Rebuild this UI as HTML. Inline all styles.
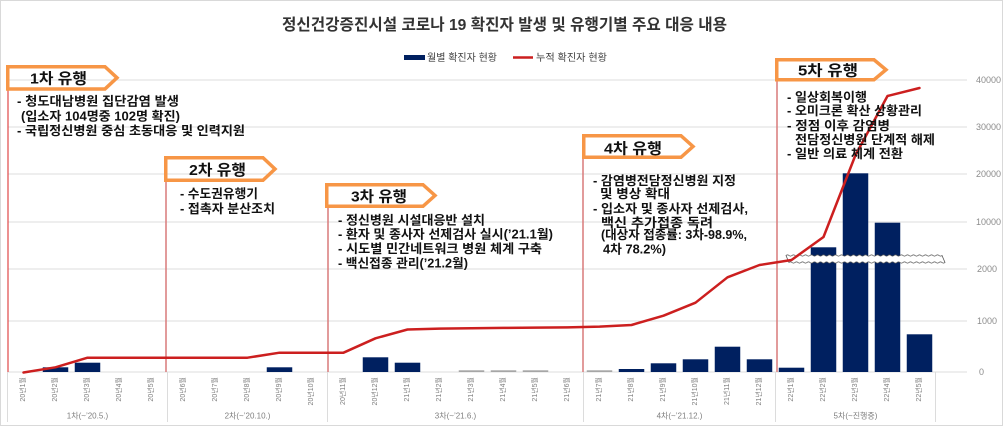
<!DOCTYPE html>
<html><head><meta charset="utf-8">
<style>
html,body{margin:0;padding:0;background:#fff;}
svg{display:block;font-family:"Liberation Sans","Noto Sans CJK KR",sans-serif;}
.t{font-size:12.5px;font-weight:bold;fill:#111;}
.h{font-size:15px;font-weight:bold;fill:#111;}
.m{font-size:7px;fill:#7f7f7f;}
.g{font-size:8px;fill:#7f7f7f;}
.r{font-size:9px;fill:#8c8c8c;}
</style></head>
<body>
<svg width="1003" height="426" viewBox="0 0 1003 426" xmlns="http://www.w3.org/2000/svg">
<rect x="0.5" y="0.5" width="1002" height="425" fill="#fff" stroke="#d9d9d9" stroke-width="1"/>

<!-- title -->
<text x="282" y="30" font-size="16" font-weight="bold" fill="#333" textLength="445" lengthAdjust="spacingAndGlyphs">정신건강증진시설 코로나 19 확진자 발생 및 유행기별 주요 대응 내용</text>

<!-- legend -->
<rect x="404" y="55" width="21" height="5" fill="#002060"/>
<text x="427" y="61" font-size="10" fill="#404040" textLength="70" lengthAdjust="spacingAndGlyphs">월별 확진자 현황</text>
<line x1="513" y1="57.5" x2="533" y2="57.5" stroke="#cc1f1f" stroke-width="2.5"/>
<text x="536" y="61" font-size="10" fill="#404040" textLength="71" lengthAdjust="spacingAndGlyphs">누적 확진자 현황</text>

<!-- gridlines -->
<g stroke="#dedede" stroke-width="1">
<line x1="7.5" y1="80" x2="967" y2="80"/>
<line x1="7.5" y1="127" x2="967" y2="127"/>
<line x1="7.5" y1="174" x2="967" y2="174"/>
<line x1="7.5" y1="222" x2="967" y2="222"/>
<line x1="7.5" y1="269" x2="967" y2="269"/>
<line x1="7.5" y1="321" x2="967" y2="321"/>
<line x1="7.5" y1="372" x2="967" y2="372"/>
</g>
<!-- group separators -->
<g stroke="#dcdcdc" stroke-width="1">
<line x1="7.5" y1="372" x2="7.5" y2="422"/>
<line x1="167.5" y1="372" x2="167.5" y2="422"/>
<line x1="327.5" y1="372" x2="327.5" y2="422"/>
<line x1="583.5" y1="372" x2="583.5" y2="422"/>
<line x1="775.5" y1="372" x2="775.5" y2="422"/>
<line x1="935.5" y1="372" x2="935.5" y2="422"/>
</g>

<!-- right axis labels -->
<g class="r" dominant-baseline="central">
<text x="976" y="80">40000</text>
<text x="976" y="127">30000</text>
<text x="976" y="174">20000</text>
<text x="976" y="222">10000</text>
<text x="977" y="269">2000</text>
<text x="977" y="321">1000</text>
<text x="979" y="372">0</text>
</g>

<!-- wave marker vertical lines -->
<g stroke="#d97a7a" stroke-width="1.5">
<line x1="8" y1="90" x2="8" y2="372" stroke="#e04848" stroke-width="1.2"/>
<line x1="166" y1="182" x2="166" y2="372"/>
<line x1="328" y1="208" x2="328" y2="372"/>
<line x1="583" y1="159" x2="583" y2="372"/>
<line x1="777" y1="81" x2="777" y2="372"/>
</g>

<!-- bars -->
<g fill="#002060">
<rect x="42.75" y="367.3" width="25.5" height="4.7"/>
<rect x="74.75" y="362.7" width="25.5" height="9.3"/>
<rect x="266.75" y="367.3" width="25.5" height="4.7"/>
<rect x="362.75" y="357.3" width="25.5" height="14.7"/>
<rect x="394.75" y="362.7" width="25.5" height="9.3"/>
<rect x="618.75" y="369" width="25.5" height="3"/>
<rect x="650.75" y="363.3" width="25.5" height="8.7"/>
<rect x="682.75" y="359.3" width="25.5" height="12.7"/>
<rect x="714.75" y="346.7" width="25.5" height="25.3"/>
<rect x="746.75" y="359.3" width="25.5" height="12.7"/>
<rect x="778.75" y="367.7" width="25.5" height="4.3"/>
<rect x="810.75" y="247.3" width="25.5" height="124.7"/>
<rect x="842.75" y="173.3" width="25.5" height="198.7"/>
<rect x="874.75" y="222.7" width="25.5" height="149.3"/>
<rect x="906.75" y="334.3" width="25.5" height="37.7"/>
</g>
<g fill="#a6a6a6">
<rect x="458.75" y="370.3" width="25.5" height="1.7"/>
<rect x="490.75" y="370.3" width="25.5" height="1.7"/>
<rect x="522.75" y="370.3" width="25.5" height="1.7"/>
<rect x="586.75" y="370.3" width="25.5" height="1.7"/>
</g>

<!-- axis break -->
<path d="M786 255.5 q1.5 -1.2 3 0 t3 0 t3 0 t3 0 t3 0 t3 0 t3 0 t3 0 t3 0 t3 0 t3 0 t3 0 t3 0 t3 0 t3 0 t3 0 t3 0 t3 0 t3 0 t3 0 t3 0 t3 0 t3 0 t3 0 t3 0 t3 0 t3 0 t3 0 t3 0 t3 0 t3 0 t3 0 t3 0 t3 0 t3 0 t3 0 t3 0 t3 0 t3 0 t3 0 t3 0 t3 0 t3 0 t3 0 t3 0 t3 0 t3 0 t3 0 t3 0 t3 0 t3 0 t3 0 L945 262.5 q-1.5 1.2 -3 0 t-3 0 t-3 0 t-3 0 t-3 0 t-3 0 t-3 0 t-3 0 t-3 0 t-3 0 t-3 0 t-3 0 t-3 0 t-3 0 t-3 0 t-3 0 t-3 0 t-3 0 t-3 0 t-3 0 t-3 0 t-3 0 t-3 0 t-3 0 t-3 0 t-3 0 t-3 0 t-3 0 t-3 0 t-3 0 t-3 0 t-3 0 t-3 0 t-3 0 t-3 0 t-3 0 t-3 0 t-3 0 t-3 0 t-3 0 t-3 0 t-3 0 t-3 0 t-3 0 t-3 0 t-3 0 t-3 0 t-3 0 t-3 0 t-3 0 t-3 0 t-3 0 Z" fill="#fff" stroke="#555" stroke-width="0.8"/>

<!-- cumulative line -->
<polyline fill="none" stroke="#cc1f1f" stroke-width="2.5" stroke-linejoin="round" stroke-linecap="round"
points="23.5,372.5 55.5,367.3 87.5,357.7 119.5,357.7 151.5,357.7 183.5,357.7 215.5,357.7 247.5,357.7 279.5,352.7 311.5,352.7 343.5,352.7 375.5,338.3 407.5,329.5 439.5,328.6 471.5,328.2 503.5,327.9 535.5,327.6 567.5,327.4 599.5,326.6 631.5,325 663.5,315.7 695.5,302.7 727.5,277.3 759.5,265 791.5,260 823.5,237 855.5,155 887.5,96 919.5,88"/>

<!-- callout boxes -->
<g fill="none" stroke="#f79646" stroke-width="3.5" stroke-linejoin="miter">
<path d="M7.75 66.75 H105 L117 77.8 L105 88.95 H7.75 Z"/>
<path d="M165.75 157.75 H263 L275 169 L263 180.25 H165.75 Z"/>
<path d="M326.75 184.75 H423 L435 195.5 L423 206.25 H326.75 Z"/>
<path d="M583.75 135.75 H681 L693 146.5 L681 157.25 H583.75 Z"/>
<path d="M776.75 59.75 H874 L886 69.75 L874 79.75 H776.75 Z"/>
</g>
<text class="h" x="30" y="83.5" textLength="57" lengthAdjust="spacingAndGlyphs">1차 유행</text>
<text class="h" x="189" y="175" textLength="57" lengthAdjust="spacingAndGlyphs">2차 유행</text>
<text class="h" x="351" y="201.5" textLength="56" lengthAdjust="spacingAndGlyphs">3차 유행</text>
<text class="h" x="604" y="153.5" textLength="58" lengthAdjust="spacingAndGlyphs">4차 유행</text>
<text class="h" x="798" y="75.5" textLength="60" lengthAdjust="spacingAndGlyphs">5차 유행</text>

<!-- 1차 text -->
<text class="t" x="17" y="105.5" textLength="162" lengthAdjust="spacingAndGlyphs">- 청도대남병원 집단감염 발생</text>
<text class="t" x="21" y="120.5" textLength="159" lengthAdjust="spacingAndGlyphs">(입소자 104명중 102명 확진)</text>
<text class="t" x="17" y="135" textLength="228" lengthAdjust="spacingAndGlyphs">- 국립정신병원 중심 초동대응 및 인력지원</text>

<!-- 2차 text -->
<text class="t" x="180" y="198" textLength="78" lengthAdjust="spacingAndGlyphs">- 수도권유행기</text>
<text class="t" x="180" y="213" textLength="95" lengthAdjust="spacingAndGlyphs">- 접촉자 분산조치</text>

<!-- 3차 text -->
<text class="t" x="338" y="224.3" textLength="147" lengthAdjust="spacingAndGlyphs">- 정신병원 시설대응반 설치</text>
<text class="t" x="338" y="238.5" textLength="215" lengthAdjust="spacingAndGlyphs">- 환자 및 종사자 선제검사 실시(’21.1월)</text>
<text class="t" x="338" y="253" textLength="204" lengthAdjust="spacingAndGlyphs">- 시도별 민간네트워크 병원 체계 구축</text>
<text class="t" x="338" y="267.5" textLength="130" lengthAdjust="spacingAndGlyphs">- 백신접종 관리(’21.2월)</text>

<!-- 4차 text -->
<text class="t" x="593" y="185" textLength="143" lengthAdjust="spacingAndGlyphs">- 감염병전담정신병원 지정</text>
<text class="t" x="600" y="198" textLength="70" lengthAdjust="spacingAndGlyphs">및 병상 확대</text>
<text class="t" x="593" y="213" textLength="155" lengthAdjust="spacingAndGlyphs">- 입소자 및 종사자 선제검사,</text>
<text class="t" x="601" y="227" textLength="112" lengthAdjust="spacingAndGlyphs">백신 추가접종 독려</text>
<text class="t" x="601" y="239" textLength="146" lengthAdjust="spacingAndGlyphs">(대상자 접종률: 3차-98.9%,</text>
<text class="t" x="603" y="253.5" textLength="63" lengthAdjust="spacingAndGlyphs">4차 78.2%)</text>

<!-- 5차 text -->
<text class="t" x="787" y="101.5" textLength="80" lengthAdjust="spacingAndGlyphs">- 일상회복이행</text>
<text class="t" x="787" y="115" textLength="135" lengthAdjust="spacingAndGlyphs">- 오미크론 확산 상황관리</text>
<text class="t" x="787" y="130" textLength="103" lengthAdjust="spacingAndGlyphs">- 정점 이후 감염병</text>
<text class="t" x="795" y="144" textLength="140" lengthAdjust="spacingAndGlyphs">전담정신병원 단계적 해제</text>
<text class="t" x="787" y="158" textLength="116" lengthAdjust="spacingAndGlyphs">- 일반 의료 체계 전환</text>

<!-- month labels -->
<g class="m" text-anchor="end" dominant-baseline="central">
<text transform="translate(23.5,377) rotate(-90)">20년1월</text>
<text transform="translate(55.5,377) rotate(-90)">20년2월</text>
<text transform="translate(87.5,377) rotate(-90)">20년3월</text>
<text transform="translate(119.5,377) rotate(-90)">20년4월</text>
<text transform="translate(151.5,377) rotate(-90)">20년5월</text>
<text transform="translate(183.5,377) rotate(-90)">20년6월</text>
<text transform="translate(215.5,377) rotate(-90)">20년7월</text>
<text transform="translate(247.5,377) rotate(-90)">20년8월</text>
<text transform="translate(279.5,377) rotate(-90)">20년9월</text>
<text transform="translate(311.5,377) rotate(-90)">20년10월</text>
<text transform="translate(343.5,377) rotate(-90)">20년11월</text>
<text transform="translate(375.5,377) rotate(-90)">20년12월</text>
<text transform="translate(407.5,377) rotate(-90)">21년1월</text>
<text transform="translate(439.5,377) rotate(-90)">21년2월</text>
<text transform="translate(471.5,377) rotate(-90)">21년3월</text>
<text transform="translate(503.5,377) rotate(-90)">21년4월</text>
<text transform="translate(535.5,377) rotate(-90)">21년5월</text>
<text transform="translate(567.5,377) rotate(-90)">21년6월</text>
<text transform="translate(599.5,377) rotate(-90)">21년7월</text>
<text transform="translate(631.5,377) rotate(-90)">21년8월</text>
<text transform="translate(663.5,377) rotate(-90)">21년9월</text>
<text transform="translate(695.5,377) rotate(-90)">21년10월</text>
<text transform="translate(727.5,377) rotate(-90)">21년11월</text>
<text transform="translate(759.5,377) rotate(-90)">21년12월</text>
<text transform="translate(791.5,377) rotate(-90)">22년1월</text>
<text transform="translate(823.5,377) rotate(-90)">22년2월</text>
<text transform="translate(855.5,377) rotate(-90)">22년3월</text>
<text transform="translate(887.5,377) rotate(-90)">22년4월</text>
<text transform="translate(919.5,377) rotate(-90)">22년5월</text>
</g>

<!-- group labels -->
<g class="g" text-anchor="middle" dominant-baseline="central">
<text x="87.5" y="416">1차(~’20.5.)</text>
<text x="247.5" y="416">2차(~’20.10.)</text>
<text x="455.5" y="416">3차(~’21.6.)</text>
<text x="679.5" y="416">4차(~’21.12.)</text>
<text x="855.5" y="416">5차(~진행중)</text>
</g>
</svg>
</body></html>
